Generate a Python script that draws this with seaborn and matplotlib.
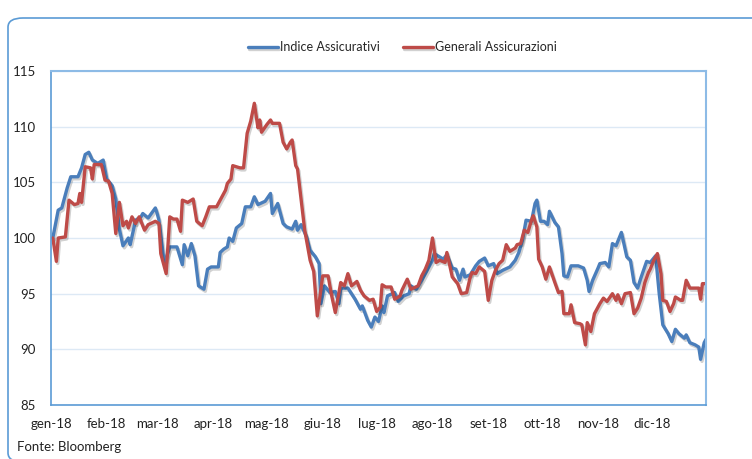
import numpy as np
import pandas as pd
import seaborn as sns
import matplotlib.pyplot as plt
import matplotlib.patheffects as pe
from matplotlib.patches import FancyBboxPatch

# Indice Assicurativi (blue)
indice_dates = [
    "2018-01-02", "2018-01-05", "2018-01-07", "2018-01-10", "2018-01-12", "2018-01-16",
    "2018-01-18", "2018-01-20", "2018-01-22", "2018-01-24", "2018-01-27", "2018-01-30",
    "2018-02-01", "2018-02-04", "2018-02-06", "2018-02-08", "2018-02-10", "2018-02-13",
    "2018-02-14", "2018-02-17", "2018-02-20", "2018-02-21", "2018-02-24", "2018-02-28",
    "2018-03-01", "2018-03-02", "2018-03-05", "2018-03-08", "2018-03-12", "2018-03-15",
    "2018-03-16", "2018-03-18", "2018-03-20", "2018-03-22", "2018-03-24", "2018-03-27",
    "2018-03-29", "2018-03-31", "2018-04-04", "2018-04-05", "2018-04-07", "2018-04-09",
    "2018-04-10", "2018-04-12", "2018-04-14", "2018-04-17", "2018-04-19", "2018-04-22",
    "2018-04-24", "2018-04-26", "2018-04-30", "2018-05-03", "2018-05-04", "2018-05-07",
    "2018-05-10", "2018-05-12", "2018-05-15", "2018-05-17", "2018-05-18", "2018-05-20",
    "2018-05-23", "2018-05-25", "2018-05-28", "2018-05-30", "2018-05-31", "2018-06-02",
    "2018-06-05", "2018-06-08", "2018-06-10", "2018-06-11", "2018-06-15", "2018-06-19",
    "2018-06-22", "2018-06-23", "2018-06-26", "2018-06-28", "2018-06-30", "2018-07-02",
    "2018-07-04", "2018-07-05", "2018-07-07", "2018-07-11", "2018-07-13", "2018-07-16",
    "2018-07-19", "2018-07-20", "2018-07-23", "2018-07-26", "2018-07-29", "2018-08-01",
    "2018-08-02", "2018-08-05", "2018-08-07", "2018-08-09", "2018-08-12", "2018-08-14",
    "2018-08-16", "2018-08-18", "2018-08-19", "2018-08-22", "2018-08-25", "2018-08-27",
    "2018-08-30", "2018-09-01", "2018-09-04", "2018-09-06", "2018-09-09", "2018-09-13",
    "2018-09-16", "2018-09-18", "2018-09-20", "2018-09-22", "2018-09-25", "2018-09-27",
    "2018-09-28", "2018-09-30", "2018-10-02", "2018-10-04", "2018-10-05", "2018-10-08",
    "2018-10-10", "2018-10-12", "2018-10-13", "2018-10-15", "2018-10-17", "2018-10-21",
    "2018-10-24", "2018-10-26", "2018-10-27", "2018-10-29", "2018-11-01", "2018-11-02",
    "2018-11-05", "2018-11-07", "2018-11-09", "2018-11-11", "2018-11-14", "2018-11-17",
    "2018-11-19", "2018-11-21", "2018-11-23", "2018-11-25", "2018-11-28", "2018-11-30",
    "2018-12-03", "2018-12-05", "2018-12-07", "2018-12-10", "2018-12-12", "2018-12-14",
    "2018-12-16", "2018-12-19", "2018-12-20", "2018-12-22", "2018-12-25", "2018-12-27",
    "2018-12-28", "2018-12-30", "2018-12-31",
]
indice_vals = [
    100.0, 102.5, 102.7, 104.5, 105.5, 105.5,
    106.3, 107.5, 107.7, 107.0, 106.7, 107.0,
    105.3, 104.7, 103.5, 100.8, 99.3, 100.0,
    99.4, 101.6, 101.9, 102.2, 101.8, 102.7,
    102.2, 101.6, 97.7, 99.2, 99.2, 97.6,
    99.4, 98.4, 99.5, 98.4, 95.7, 95.4,
    97.2, 97.4, 97.4, 98.7, 99.0, 99.2,
    100.0, 99.7, 100.9, 101.3, 102.8, 102.8,
    103.7, 103.0, 103.3, 104.0, 102.2, 103.1,
    101.3, 101.0, 100.8, 101.5, 100.7, 101.2,
    100.1, 98.9, 98.3, 97.7, 94.1, 95.7,
    95.1, 95.2, 94.1, 95.5, 95.5, 94.5,
    93.6, 93.9, 92.6, 92.0, 92.9, 92.5,
    93.9, 93.3, 94.8, 95.1, 94.3, 94.8,
    95.0, 95.7, 95.4, 96.2, 97.1, 98.0,
    98.6, 98.3, 98.1, 98.5, 97.3, 97.2,
    96.2, 97.2, 96.5, 96.7, 97.5, 97.9,
    98.2, 97.5, 97.7, 96.8, 97.1, 97.4,
    98.0, 98.7, 99.8, 101.6, 101.5, 103.1,
    103.4, 101.5, 101.5, 101.2, 102.4, 101.4,
    101.0, 98.6, 96.6, 96.5, 97.5, 97.5,
    97.3, 96.2, 95.2, 96.2, 97.3, 97.7,
    97.8, 97.4, 99.5, 99.3, 100.5, 98.3,
    98.0, 96.0, 95.5, 96.5, 97.9, 97.8,
    98.4, 95.0, 92.2, 91.4, 90.7, 91.8,
    91.4, 91.0, 91.3, 90.6, 90.4, 90.2,
    89.1, 90.6, 90.9,
]

# Generali Assicurazioni (red)
generali_dates = [
    "2018-01-02", "2018-01-04", "2018-01-05", "2018-01-09", "2018-01-11", "2018-01-14",
    "2018-01-16", "2018-01-17", "2018-01-18", "2018-01-20", "2018-01-23", "2018-01-24",
    "2018-01-25", "2018-01-29", "2018-01-31", "2018-02-02", "2018-02-04", "2018-02-06",
    "2018-02-08", "2018-02-10", "2018-02-12", "2018-02-13", "2018-02-15", "2018-02-17",
    "2018-02-19", "2018-02-22", "2018-02-24", "2018-02-28", "2018-03-02", "2018-03-03",
    "2018-03-06", "2018-03-08", "2018-03-10", "2018-03-12", "2018-03-14", "2018-03-15",
    "2018-03-18", "2018-03-21", "2018-03-23", "2018-03-26", "2018-03-28", "2018-03-30",
    "2018-04-03", "2018-04-05", "2018-04-08", "2018-04-09", "2018-04-11", "2018-04-12",
    "2018-04-16", "2018-04-18", "2018-04-20", "2018-04-22", "2018-04-24", "2018-04-26",
    "2018-04-27", "2018-04-28", "2018-05-01", "2018-05-03", "2018-05-04", "2018-05-08",
    "2018-05-10", "2018-05-12", "2018-05-14", "2018-05-15", "2018-05-17", "2018-05-18",
    "2018-05-22", "2018-05-25", "2018-05-27", "2018-05-29", "2018-06-01", "2018-06-04",
    "2018-06-06", "2018-06-08", "2018-06-11", "2018-06-13", "2018-06-15", "2018-06-17",
    "2018-06-20", "2018-06-22", "2018-06-24", "2018-06-27", "2018-06-29", "2018-07-01",
    "2018-07-03", "2018-07-04", "2018-07-06", "2018-07-09", "2018-07-11", "2018-07-14",
    "2018-07-15", "2018-07-18", "2018-07-20", "2018-07-24", "2018-07-26", "2018-07-28",
    "2018-07-30", "2018-08-01", "2018-08-03", "2018-08-05", "2018-08-08", "2018-08-09",
    "2018-08-12", "2018-08-15", "2018-08-17", "2018-08-20", "2018-08-22", "2018-08-23",
    "2018-08-25", "2018-08-27", "2018-08-30", "2018-09-01", "2018-09-03", "2018-09-05",
    "2018-09-07", "2018-09-09", "2018-09-11", "2018-09-13", "2018-09-16", "2018-09-17",
    "2018-09-19", "2018-09-21", "2018-09-23", "2018-09-25", "2018-09-26", "2018-09-28",
    "2018-09-29", "2018-10-01", "2018-10-03", "2018-10-05", "2018-10-08", "2018-10-10",
    "2018-10-12", "2018-10-13", "2018-10-16", "2018-10-17", "2018-10-19", "2018-10-22",
    "2018-10-23", "2018-10-25", "2018-10-26", "2018-10-28", "2018-10-30", "2018-11-02",
    "2018-11-04", "2018-11-06", "2018-11-09", "2018-11-11", "2018-11-12", "2018-11-14",
    "2018-11-16", "2018-11-19", "2018-11-21", "2018-11-23", "2018-11-25", "2018-11-27",
    "2018-11-29", "2018-11-30", "2018-12-02", "2018-12-04", "2018-12-06", "2018-12-07",
    "2018-12-09", "2018-12-11", "2018-12-13", "2018-12-14", "2018-12-17", "2018-12-18",
    "2018-12-20", "2018-12-22", "2018-12-27", "2018-12-28", "2018-12-29", "2018-12-31",
]
generali_vals = [
    100.0, 97.9, 100.0, 100.1, 103.4, 103.0,
    103.1, 104.0, 103.2, 106.4, 106.3, 105.3,
    106.6, 106.6, 105.2, 105.1, 104.0, 100.4,
    103.2, 101.1, 101.5, 100.9, 101.9, 101.3,
    101.9, 100.7, 101.2, 101.5, 101.3, 98.6,
    96.8, 101.9, 101.7, 101.7, 100.6, 103.4,
    103.2, 103.5, 101.5, 101.1, 101.9, 102.8,
    102.8, 103.4, 104.3, 104.9, 105.3, 106.5,
    106.3, 106.3, 109.4, 110.5, 112.1, 109.9,
    110.6, 109.5, 110.2, 110.6, 110.3, 110.3,
    108.6, 108.0, 108.6, 108.8, 106.5, 106.2,
    100.7, 98.0, 97.0, 93.0, 96.6, 96.6,
    94.8, 93.3, 96.0, 95.7, 96.8, 95.7,
    96.1, 95.3, 94.8, 94.4, 94.5, 93.4,
    93.8, 95.8, 95.6, 95.6, 94.5, 94.8,
    95.3, 96.3, 95.4, 95.7, 96.6, 97.2,
    98.0, 100.0, 97.8, 98.0, 97.8, 98.7,
    96.5, 95.9, 95.0, 95.1, 96.5, 96.9,
    96.8, 97.4, 97.0, 94.4, 96.2, 97.1,
    97.7, 98.0, 99.4, 98.8, 99.1, 99.4,
    99.5, 100.7, 100.5, 101.6, 102.0, 101.0,
    98.1, 97.4, 96.3, 97.4, 96.0, 95.1,
    95.2, 93.2, 93.2, 94.0, 92.4, 92.3,
    92.2, 90.4, 92.4, 91.6, 93.2, 94.1,
    94.6, 94.3, 95.0, 94.4, 94.9, 94.1,
    95.0, 95.1, 93.2, 93.7, 94.6, 96.0,
    96.9, 97.2, 98.0, 98.6, 96.8, 94.4,
    94.3, 93.4, 94.1, 94.7, 94.4, 94.4,
    96.2, 95.5, 95.5, 94.5, 95.9, 95.9,
]

month_labels = ["gen-18", "feb-18", "mar-18", "apr-18", "mag-18", "giu-18",
                "lug-18", "ago-18", "set-18", "ott-18", "nov-18", "dic-18"]
y_ticks = [85, 90, 95, 100, 105, 110, 115]

blue = "#4a7ebb"
red = "#be4b48"
frame_blue = "#5b9bd5"

sns.set_style("white")
plt.rcParams["font.family"] = ["Lato", "DejaVu Sans"]

fig = plt.figure(figsize=(7.52, 4.59), dpi=100)
ax = fig.add_axes([51 / 752, 1 - 405 / 459, 655 / 752, 334 / 459])

shadow = [pe.SimpleLineShadow(offset=(1, -1.5), alpha=0.18, shadow_color="k"), pe.Normal()]

df_i = pd.DataFrame({"date": pd.to_datetime(indice_dates), "val": indice_vals})
df_g = pd.DataFrame({"date": pd.to_datetime(generali_dates), "val": generali_vals})

sns.lineplot(data=df_i, x="date", y="val", color=blue, lw=2.4, ax=ax,
             label="Indice Assicurativi", path_effects=shadow)
sns.lineplot(data=df_g, x="date", y="val", color=red, lw=2.4, ax=ax,
             label="Generali Assicurazioni", path_effects=shadow)

ax.set_xlim(pd.Timestamp("2018-01-01"), pd.Timestamp("2018-12-31"))
ax.set_ylim(85, 115)
ax.set_yticks(y_ticks)
ax.set_yticklabels([str(v) for v in y_ticks], fontsize=9.5, color="#222222")
month_starts = pd.date_range("2018-01-01", periods=12, freq="MS")
ax.set_xticks(month_starts)
ax.set_xticklabels(month_labels, fontsize=9.5, color="#222222")
ax.tick_params(axis="x", length=4, width=1, color=frame_blue, pad=5, direction="out")
ax.tick_params(axis="y", length=0, pad=11)
ax.set_xlabel("")
ax.set_ylabel("")

ax.grid(axis="y", color="#dde9f5", lw=1)
ax.grid(axis="x", visible=False)
for side in ["left", "bottom"]:
    ax.spines[side].set_color(frame_blue)
    ax.spines[side].set_linewidth(1.2)
for side in ["top", "right"]:
    ax.spines[side].set_color("#8dbbe6")
    ax.spines[side].set_linewidth(1.5)

handles, labels = ax.get_legend_handles_labels()
ax.get_legend().remove()
fig.legend(handles, labels, loc="center", bbox_to_anchor=(0.535, 0.897), ncol=2,
           frameon=False, fontsize=9, handlelength=2.4, handletextpad=0.2,
           columnspacing=1.8)

fig.text(0.022, 0.026, "Fonte: Bloomberg", fontsize=9.5, color="#222222",
         ha="left", va="center")

# outer rounded frame (bottom edge falls just below the picture)
frame = FancyBboxPatch((8 / 752, -3 / 459), 1.2, (459 - 18 + 3) / 459,
                       boxstyle="round,pad=0,rounding_size=0.02",
                       transform=fig.transFigure, fill=False, ec=frame_blue, lw=1.2,
                       clip_on=False)
fig.patches.append(frame)

fig.savefig("out.png", dpi=100)
